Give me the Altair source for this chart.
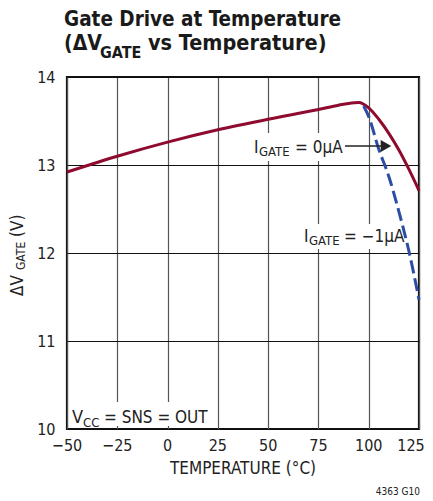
import altair as alt
import pandas as pd

# Data
temp_0ua = [-50, -25, 0, 25, 50, 75, 85, 90, 95, 100, 105, 110, 115, 120, 125]
vgate_0ua = [12.92, 13.10, 13.26, 13.40, 13.52, 13.63, 13.68, 13.70, 13.71, 13.65, 13.52, 13.36, 13.17, 12.95, 12.71]
temp_1ua = [97.5, 100, 105, 110, 115, 120, 125]
vgate_1ua = [13.67, 13.55, 13.18, 12.87, 12.47, 12.02, 11.47]
x_ticks = [-50, -25, 0, 25, 50, 75, 100, 125]
y_ticks = [10, 11, 12, 13, 14]

df0 = pd.DataFrame({"T": temp_0ua, "V": vgate_0ua})
df1 = pd.DataFrame({"T": temp_1ua, "V": vgate_1ua})
dfx = pd.DataFrame({"T": x_ticks, "lab": [str(t).replace("-", "\u2212") for t in x_ticks]})

FONT = "DejaVu Sans Condensed, Roboto, sans-serif"
PX0, PY0 = 67, 77  # plot origin on page
W, H = 352, 352

xs = alt.Scale(domain=[-50, 125], nice=False)
ys = alt.Scale(domain=[10, 14], nice=False)

xenc = alt.X("T:Q", scale=xs, axis=alt.Axis(values=x_ticks, title=None, labels=False,
                                            grid=True, gridColor="#555", gridWidth=1.2,
                                            ticks=False, domain=False))
yenc = alt.Y("V:Q", scale=ys, axis=alt.Axis(values=y_ticks, title=None, labelFontSize=16, format="d",
                                            labelFont=FONT, labelColor="#222", labelPadding=12,
                                            labelOverlap=False, labelFlush=False,
                                            grid=True, gridColor="#111", gridWidth=1.2,
                                            ticks=False, domain=False))

red = alt.Chart(df0).mark_line(color="#8E0B2F", strokeWidth=3, interpolate="monotone").encode(x=xenc, y=yenc)
blue = alt.Chart(df1).mark_line(color="#2D4DA5", strokeWidth=3, strokeDash=[13, 5],
                                 interpolate="monotone").encode(x="T:Q", y="V:Q")

xlab = alt.Chart(dfx).transform_filter("datum.T < 125").mark_text(
    font=FONT, fontSize=16, color="#222", baseline="alphabetic", align="center").encode(
    x=alt.X("T:Q", scale=xs), y=alt.value(H + 22), text="lab:N")
xlab_last = alt.Chart(dfx).transform_filter("datum.T == 125").mark_text(
    font=FONT, fontSize=16, color="#222", baseline="alphabetic", align="center", dx=-8).encode(
    x=alt.X("T:Q", scale=xs), y=alt.value(H + 22), text="lab:N")

one = alt.Data(values=[{}])


def txt(s, px, py, size=18, bold=False, align="left", angle=0, baseline="alphabetic", color="#222"):
    kw = dict(fontSize=size, font=FONT, align=align, baseline=baseline, color=color)
    if bold:
        kw["fontWeight"] = "bold"
    if angle:
        kw["angle"] = angle
    return alt.Chart(one).mark_text(**kw).encode(
        x=alt.value(px - PX0), y=alt.value(py - PY0), text=alt.value(s))


def box(x1, y1, x2, y2):
    return alt.Chart(one).mark_rect(color="white").encode(
        x=alt.value(x1 - PX0), x2=alt.value(x2 - PX0), y=alt.value(y1 - PY0), y2=alt.value(y2 - PY0))


layers = [
    box(70, 402, 210, 426),
    box(251, 133, 342, 161),
    box(301, 224, 401, 249),
    red, blue, xlab, xlab_last,
    # title
    txt("Gate Drive at Temperature", 64, 26, size=20.5, bold=True, color="#1a1a1a"),
    txt("(ΔV", 64, 50, size=21, bold=True, color="#1a1a1a"),
    txt("GATE", 100, 58, size=16, bold=True, color="#1a1a1a"),
    txt("vs Temperature)", 148, 50, size=21.5, bold=True, color="#1a1a1a"),
    # annotations
    txt("I", 254, 153, size=17),
    txt("GATE", 259, 156, size=13),
    txt("= 0µA", 295, 153, size=17),
    txt("I", 304, 242, size=17),
    txt("GATE", 309, 245, size=13),
    txt("= −1µA", 344, 242, size=17),
    txt("V", 72, 423, size=18),
    txt("CC", 83, 427, size=13),
    txt("= SNS = OUT", 104, 423, size=17),
    # axis titles
    txt("TEMPERATURE (°C)", 243, 474, size=17, align="center"),
    txt("4363 G10", 420, 495, size=10, align="right"),
    txt("ΔV", 18, 296, size=17, angle=270, baseline="middle"),
    txt("GATE", 21, 270, size=12, angle=270, baseline="middle"),
    txt("(V)", 18, 237, size=17, angle=270, baseline="middle"),
    # arrow
    alt.Chart(one).mark_rule(color="#222", strokeWidth=1.5).encode(
        x=alt.value(345 - PX0), x2=alt.value(383 - PX0), y=alt.value(146 - PY0)),
    alt.Chart(one).mark_point(shape="triangle-right", filled=True, color="#222", opacity=1, size=150).encode(
        x=alt.value(386 - PX0), y=alt.value(146 - PY0)),
]

chart = alt.layer(*layers).properties(
    width=W, height=H,
    autosize=alt.AutoSizeParams(type="none"),
    padding={"left": 59, "top": 69, "right": 6, "bottom": 70},
).configure_view(stroke="#111", strokeWidth=2.2).configure_axis(labelFont=FONT)

chart.save("out.html", embed_options={"renderer": "svg", "actions": False})
